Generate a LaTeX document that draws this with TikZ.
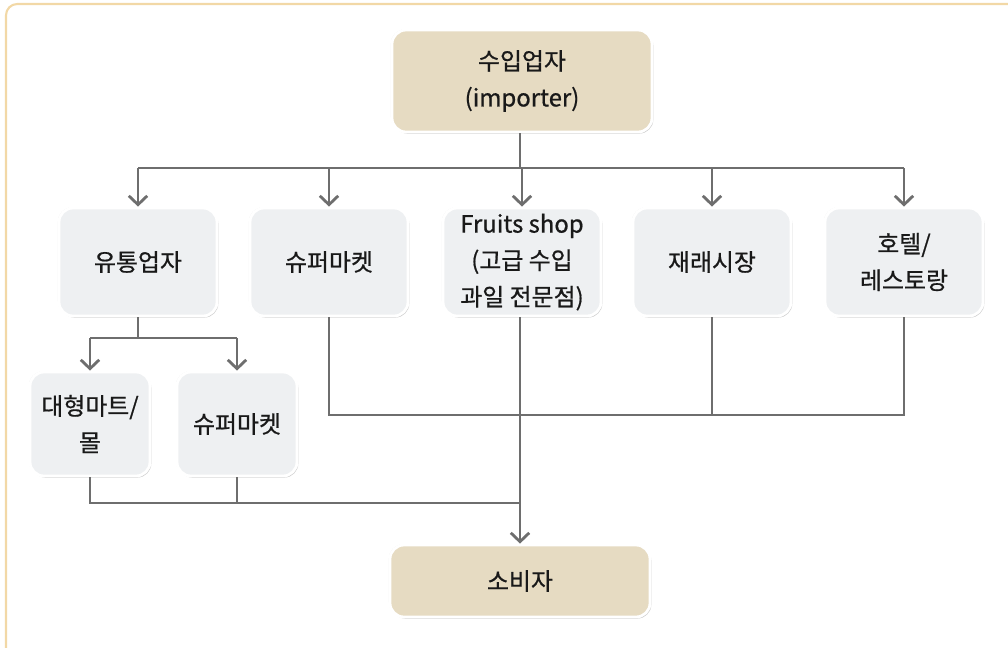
\documentclass[tikz,border=0pt]{standalone}
\usepackage{fontspec}
\setmainfont{Noto Sans CJK KR}[FakeBold=0.7]
\usetikzlibrary{arrows.meta,shadows}
\definecolor{tanbox}{HTML}{E6DBC2}
\definecolor{graybox}{HTML}{EEF0F2}
\definecolor{linegray}{HTML}{6E6E6E}
\definecolor{framecol}{HTML}{F2D8A6}

\begin{document}
\begin{tikzpicture}[x=0.025cm,y=-0.025cm,line width=1.4pt,
  >={Straight Barb[length=2.2mm,width=4.6mm,line width=2pt]},
  box/.style={draw=white,line width=2pt,rounded corners=10pt,align=center,
    text=black!90,font=\fontsize{17}{26}\selectfont,inner sep=0pt,
    general shadow={fill=black!30,shadow xshift=-0.7pt,shadow yshift=0.5pt,opacity=0.5},
    drop shadow={shadow xshift=0.9pt,shadow yshift=-1.1pt,opacity=0.5,fill=black!45}},
  gbox/.style={box,fill=graybox,minimum width=3.95cm,minimum height=2.7cm},
  sbox/.style={box,fill=graybox,minimum width=3.0cm,minimum height=2.6cm},
  tbox/.style={box,fill=tanbox,minimum width=6.5cm},
  link/.style={draw=linegray,line width=1.4pt}]
  \useasboundingbox (0,0) rectangle (1008,647);
  \begin{scope}
    \clip (0,0) rectangle (1008,647);
    \draw[framecol,line width=1.5pt,rounded corners=8pt] (6,4) rectangle (1040,690);
  \end{scope}
  % nodes
  \node[tbox,minimum height=2.55cm] (imp) at (522,81){수입업자\\(importer)};
  \node[gbox] (dist) at (138,262){유통업자};
  \node[gbox] (super) at (329,262){슈퍼마켓};
  \node[gbox] (fruit) at (522,262){Fruits shop\\(고급 수입\\과일 전문점)};
  \node[gbox] (market) at (712,262){재래시장};
  \node[gbox] (hotel) at (904,262){호텔/\\레스토랑};
  \node[sbox] (mart) at (90,424){대형마트/\\몰};
  \node[sbox] (super2) at (237,424){슈퍼마켓};
  \node[tbox,minimum height=1.8cm] (cons) at (520,581){소비자};
  \coordinate (bus) at (520,168);
  \coordinate (split) at (135,338);
  \coordinate (mid) at (520,415);
  \coordinate (low) at (520,503);
  % importer to row 2
  \draw[link] (imp.south -| bus) -- (bus);
  \draw[link] (dist.north |- bus) -- (hotel.north |- bus);
  \foreach \n in {dist,super,fruit,market,hotel}
    \draw[link,->] (\n.north |- bus) -- (\n.north);
  % distributor to row 3
  \draw[link] (dist.south) -- (dist.south |- split);
  \draw[link] (mart.north |- split) -- (super2.north |- split);
  \foreach \n in {mart,super2}
    \draw[link,->] (\n.north |- split) -- (\n.north);
  % to consumer
  \draw[link] (mart.south) |- (low);
  \draw[link] (super2.south) -- (super2.south |- low);
  \draw[link] (super.south) |- (hotel.south |- mid) -- (hotel.south);
  \draw[link] (market.south) -- (market.south |- mid);
  \draw[link,->] (fruit.south -| cons) -- (cons.north);
\end{tikzpicture}
\end{document}
